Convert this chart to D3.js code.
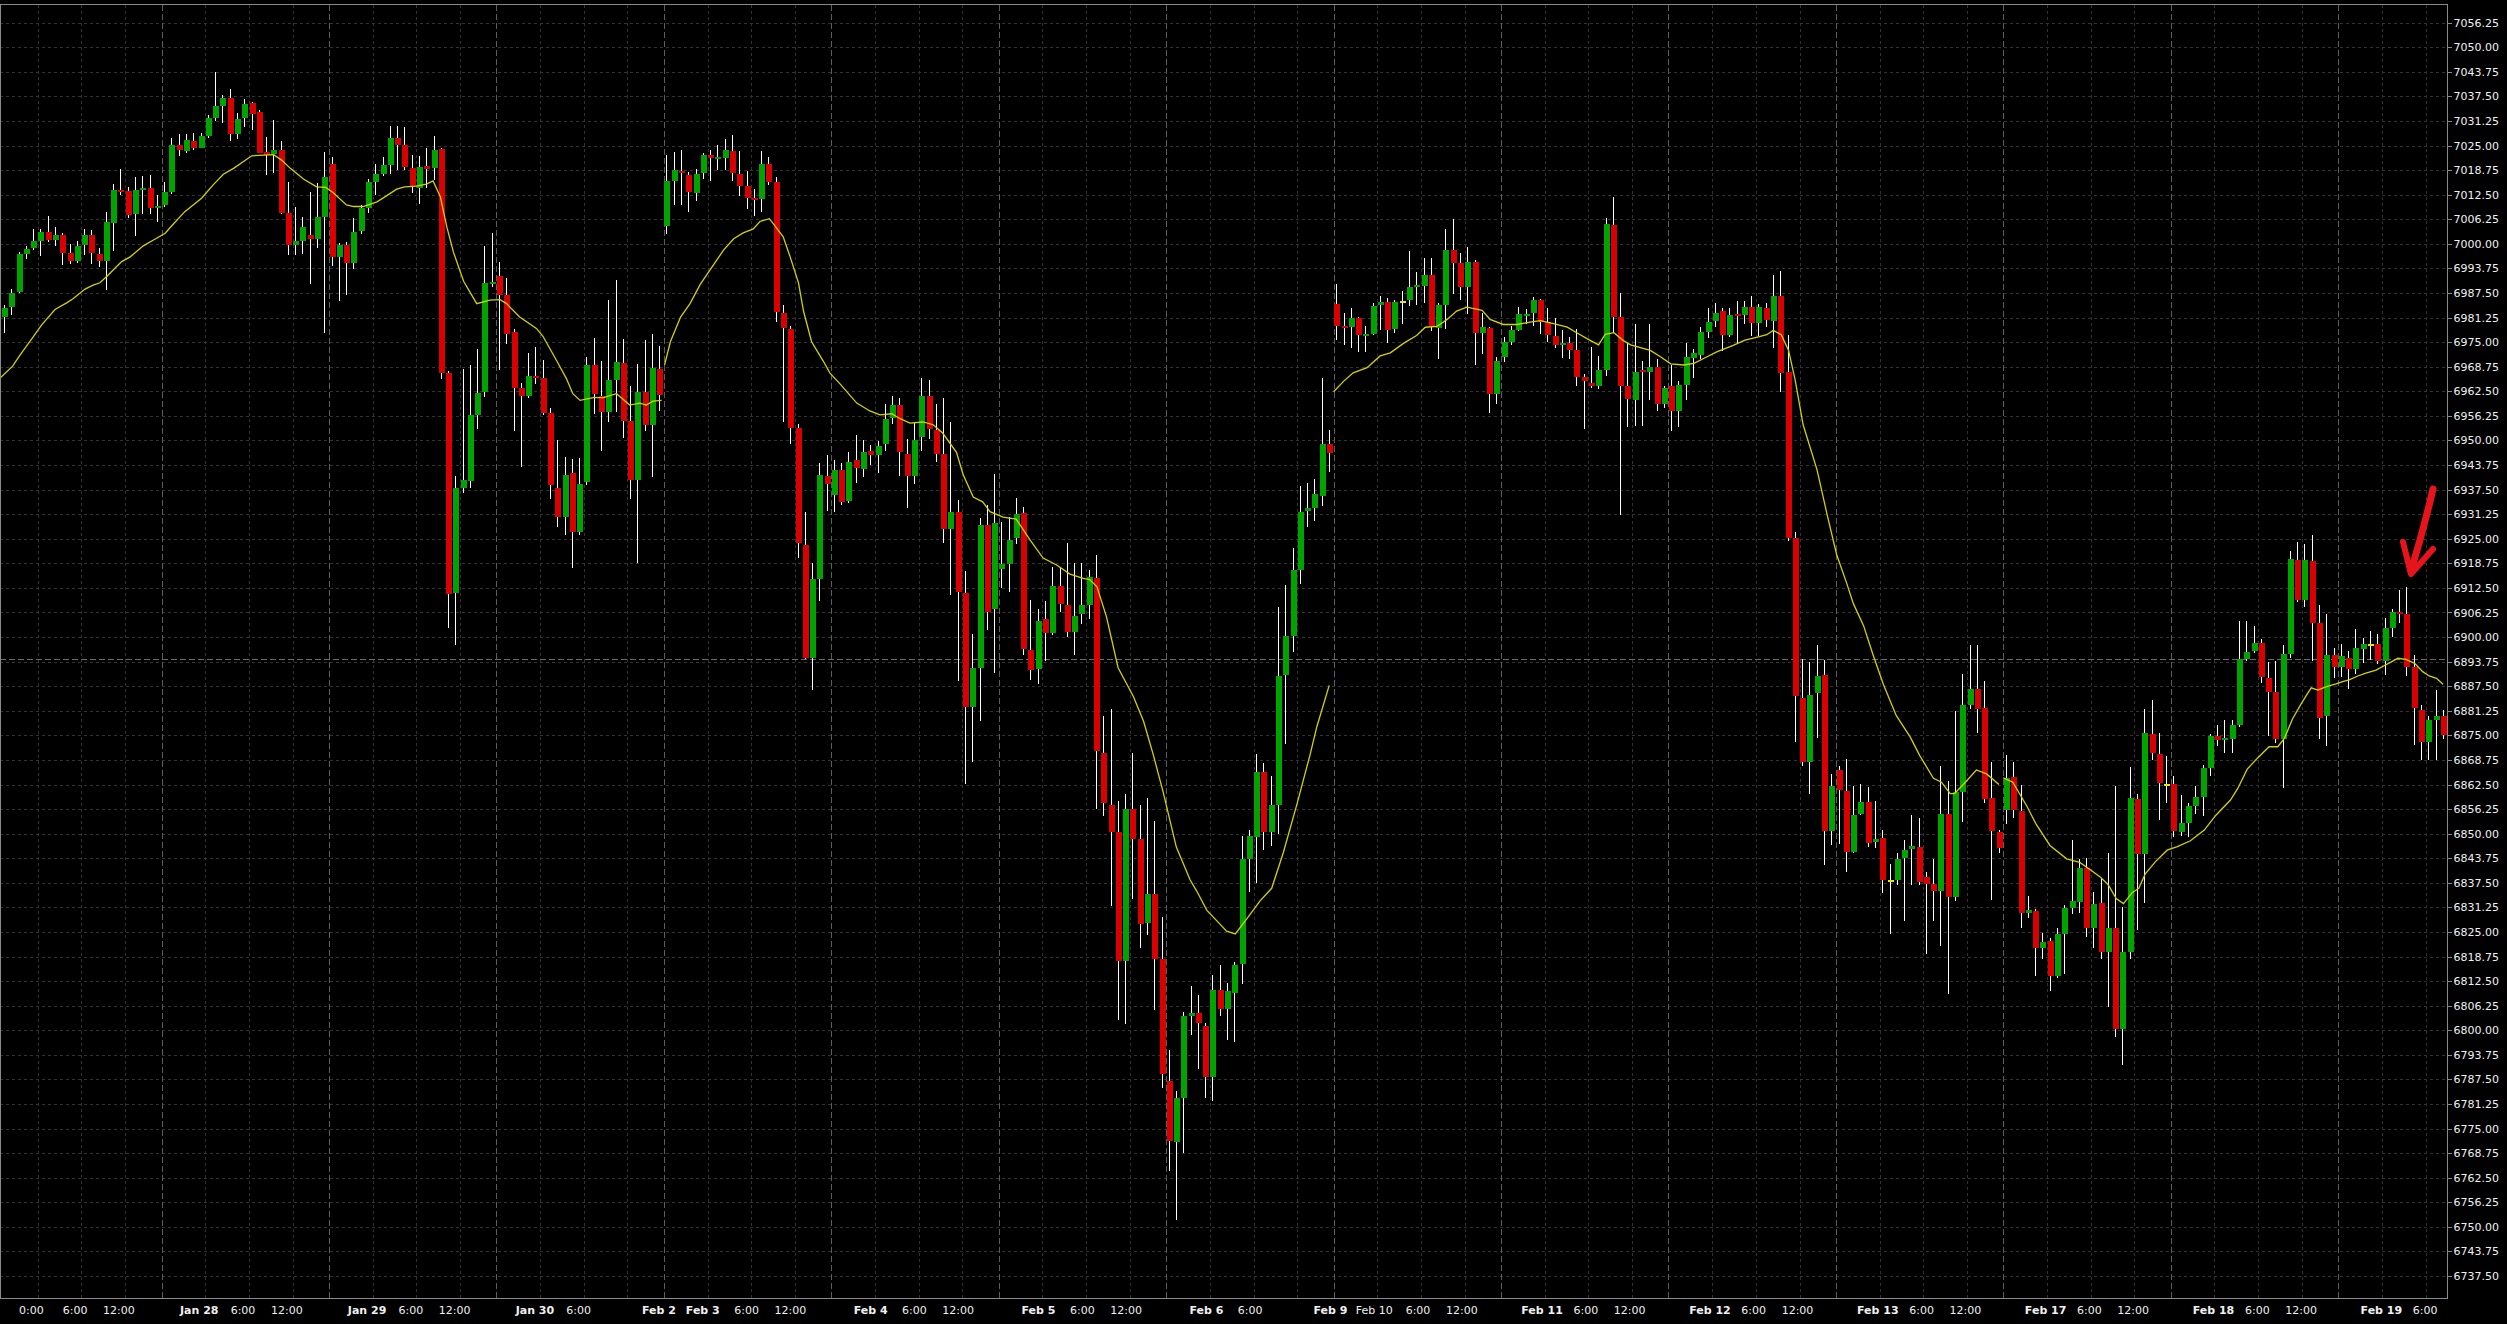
<!DOCTYPE html>
<html><head><meta charset="utf-8">
<script src="https://cdn.jsdelivr.net/npm/d3@7"></script>
<style>html,body{margin:0;padding:0;background:#000;overflow:hidden}</style>
</head><body>
<svg id="chart" width="2507" height="1324"></svg>
<script>
// ---- DATA (hourly candles, index 0..336) ----
const openP = [
6977.7,6981.5,6984.0,6987.8,6997.3,6999.0,7000.7,7003.0,7001.0,7002.3,
6997.7,6995.7,6999.7,7002.3,6997.4,6995.7,7005.4,7013.7,7013.4,7007.6,
7013.8,7014.2,7009.2,7009.9,7013.3,7025.1,7023.7,7026.2,7024.5,7027.5,
7032.0,7035.1,7037.0,7028.0,7032.0,7035.8,7033.5,7023.4,7022.8,7023.9,
7007.8,6999.7,7000.7,7002.3,7001.2,7006.8,7020.3,6996.7,6999.7,6995.1,
7003.3,7009.2,7015.7,7017.8,7020.0,7026.9,7025.1,7019.4,7014.3,7019.8,
7019.3,7024.1,6967.2,6911.3,6937.9,6939.8,6956.6,6962.4,6989.8,6991.8,
6987.0,6977.5,6963.4,6961.4,6966.4,6966.0,6957.1,6937.9,6930.6,6941.8,
6926.6,6939.5,6969.2,6961.4,6957.3,6965.5,6969.6,6954.9,6940.0,6962.2,
6953.9,6968.2,7004.6,7015.9,7018.6,7017.5,7013.0,7017.9,7022.5,7021.8,
7021.9,7023.5,7017.7,7014.8,7011.6,7011.3,7020.3,7015.7,6982.4,6978.3,
6953.2,6923.3,6894.8,6914.7,6941.0,6936.2,6942.5,6934.7,6945.0,6942.8,
6947.3,6946.3,6949.2,6955.6,6958.9,6946.6,6941.0,6950.8,6961.4,6952.6,
6946.6,6927.5,6931.7,6911.1,6882.1,6892.2,6928.4,6907.2,6917.3,6918.7,
6925.1,6931.6,6896.8,6891.9,6904.5,6901.0,6913.1,6908.2,6901.2,6905.8,
6908.2,6914.9,6870.5,6857.3,6850.3,6817.6,6856.3,6848.7,6827.3,6834.7,
6818.2,6787.0,6771.7,6782.8,6803.7,6804.4,6801.2,6788.0,6810.3,6805.4,
6809.6,6816.9,6843.5,6849.1,6865.7,6850.3,6857.3,6890.4,6900.3,6917.0,
6932.0,6932.9,6936.0,6949.1,6984.6,6979.2,6978.8,6981.1,6976.7,6977.1,
6984.5,6985.2,6978.4,6985.1,6985.6,6989.0,6989.3,6992.0,6978.5,6984.5,
6998.5,6995.1,6989.0,6995.5,6977.4,6978.5,6961.7,6971.3,6975.1,6978.1,
6981.6,6982.4,6985.6,6980.1,6976.6,6974.4,6974.7,6972.9,6966.1,6964.7,
6963.8,6967.9,7004.7,6981.5,6963.8,6960.4,6967.7,6967.5,6968.8,6959.3,
6963.8,6957.6,6964.2,6970.9,6971.7,6977.7,6980.5,6982.9,6976.9,6982.0,
6981.9,6983.9,6979.9,6983.6,6980.5,6986.7,6967.5,6925.1,6884.4,6868.1,
6885.8,6890.3,6850.8,6866.2,6860.9,6845.4,6855.1,6858.0,6848.0,6849.0,
6838.0,6838.2,6843.9,6846.2,6846.6,6838.9,6837.3,6835.5,6855.1,6833.9,
6860.5,6882.7,6886.7,6882.0,6859.1,6850.4,6856.0,6864.5,6855.7,6829.9,
6830.4,6821.0,6822.8,6813.7,6824.5,6831.1,6832.6,6841.3,6825.9,6832.4,
6819.8,6826.0,6800.2,6819.8,6858.7,6844.7,6875.4,6870.3,6862.4,6862.6,
6850.5,6852.6,6857.1,6859.2,6866.6,6874.8,6873.8,6874.1,6877.6,6894.3,
6896.4,6898.4,6889.5,6886.1,6874.0,6895.7,6919.6,6909.4,6919.3,6903.5,
6879.8,6895.4,6892.3,6894.8,6891.9,6897.0,6898.1,6898.2,6894.0,6902.4,
6906.5,6905.9,6892.3,6881.4,6873.4,6878.9,6879.9];
const highP = [
6982.5,6984.4,6988.4,6998.0,6999.5,7003.8,7003.8,7007.1,7004.2,7002.7,
7000.0,7000.7,7003.9,7003.5,6998.9,7008.1,7015.2,7019.0,7014.4,7017.1,
7017.3,7017.5,7012.4,7015.7,7026.9,7027.9,7028.0,7028.1,7028.2,7032.8,
7043.7,7037.9,7039.4,7033.4,7036.8,7036.2,7034.0,7027.3,7031.5,7026.2,
7015.7,7009.4,7006.9,7013.2,7015.6,7023.3,7022.0,7000.3,7000.5,7006.6,
7010.0,7016.6,7020.3,7022.0,7030.0,7030.0,7029.7,7022.6,7022.4,7024.4,
7027.4,7024.4,6967.7,6941.0,6968.2,6969.2,6973.3,6999.4,7002.8,6995.3,
6991.4,6978.3,6964.5,6972.3,6973.8,6970.4,6958.3,6950.1,6945.9,6945.4,
6945.6,6971.3,6976.0,6970.2,6985.7,6990.9,6975.8,6963.9,6969.4,6975.5,
6977.0,6973.9,7022.7,7023.4,7023.9,7018.3,7019.0,7023.2,7023.9,7025.2,
7026.6,7027.6,7023.7,7018.6,7014.0,7023.5,7022.1,7017.1,6984.5,6979.1,
6954.1,6931.7,6918.8,6944.3,6946.2,6945.0,6944.2,6947.0,6951.5,6950.1,
6948.8,6949.8,6959.3,6961.4,6960.7,6950.5,6954.5,6965.8,6965.4,6959.3,
6960.9,6954.7,6934.9,6916.7,6900.7,6930.3,6933.7,6941.4,6929.3,6930.5,
6935.4,6933.0,6909.3,6907.2,6909.1,6917.7,6917.7,6924.0,6918.8,6918.8,
6917.0,6920.8,6879.8,6881.7,6858.4,6860.1,6870.6,6857.3,6859.1,6853.3,
6828.8,6794.9,6784.5,6804.7,6811.3,6808.9,6801.9,6814.1,6816.6,6812.1,
6817.3,6849.4,6851.0,6870.3,6868.0,6864.7,6907.7,6913.2,6922.6,6938.3,
6939.3,6940.2,6965.8,6952.6,6989.9,6982.4,6983.8,6981.5,6979.0,6984.9,
6986.7,6986.3,6985.6,6987.9,6998.1,6992.8,6996.5,6996.5,6984.9,7003.7,
7006.4,6997.8,6999.2,6995.8,6982.4,6978.8,6971.3,6976.3,6979.2,6983.9,
6983.5,6986.5,6986.0,6983.8,6981.1,6978.1,6976.3,6978.3,6966.9,6973.7,
6971.5,7006.7,7011.9,6987.6,6974.7,6979.7,6970.2,6979.7,6970.6,6963.8,
6969.2,6965.1,6974.7,6973.3,6978.8,6983.8,6984.9,6983.6,6983.6,6985.4,
6985.4,6986.7,6984.7,6985.0,6992.0,6993.1,6976.9,6926.7,6894.4,6893.7,
6898.1,6894.1,6865.2,6867.2,6868.9,6862.2,6862.7,6861.8,6858.4,6851.0,
6842.3,6845.0,6848.3,6854.8,6854.0,6840.3,6843.6,6867.2,6863.4,6881.3,
6890.7,6898.1,6898.1,6888.7,6868.1,6851.0,6869.9,6868.1,6862.5,6834.2,
6830.8,6824.8,6823.4,6826.1,6831.9,6848.3,6843.6,6843.9,6835.1,6838.5,
6845.0,6862.1,6831.4,6866.9,6860.1,6881.6,6884.0,6875.5,6869.8,6864.7,
6859.8,6857.7,6862.1,6867.5,6875.3,6877.6,6878.9,6878.9,6904.1,6904.1,
6902.8,6899.5,6893.7,6893.9,6898.0,6921.9,6924.1,6923.7,6926.0,6908.1,
6905.9,6897.1,6898.2,6896.4,6902.0,6899.8,6901.5,6900.8,6904.8,6907.1,
6912.0,6912.8,6895.4,6882.7,6879.9,6886.5,6881.4];
const lowP = [
6976.5,6977.4,6981.9,6987.4,6996.2,6998.4,6997.0,7000.5,6999.5,6994.5,
6994.9,6995.1,6997.2,6994.8,6994.0,6988.3,6998.3,7012.5,7006.7,7002.1,
7007.7,7007.7,7005.6,7009.4,7012.7,7022.4,7023.2,7023.9,7024.3,7027.0,
7031.3,7030.7,7026.2,7026.7,7029.8,7029.0,7023.0,7017.5,7018.1,7007.5,
6997.2,6997.2,6997.4,6989.7,6999.0,6977.4,6994.4,6985.5,6987.0,6993.6,
7002.5,7007.9,7012.4,7017.3,7017.8,7018.8,7018.8,7013.0,7010.2,7014.2,
7016.2,6965.6,6902.3,6898.0,6936.6,6937.8,6952.9,6961.1,6989.0,6967.8,
6974.6,6952.5,6943.3,6960.7,6964.3,6956.6,6935.1,6928.0,6925.9,6917.6,
6925.9,6938.6,6956.8,6947.4,6954.6,6957.3,6950.7,6935.1,6918.9,6952.5,
6940.8,6957.5,7002.5,7009.9,7009.9,7008.1,7010.8,7016.6,7016.1,7018.8,
7018.8,7016.1,7012.2,7008.9,7007.2,7008.1,7015.0,6980.2,6954.6,6949.0,
6920.1,6894.3,6886.5,6909.1,6932.0,6931.7,6933.7,6934.0,6939.3,6940.6,
6943.8,6941.7,6947.4,6954.2,6941.0,6932.8,6938.9,6947.3,6950.5,6944.6,
6924.0,6910.7,6888.7,6862.6,6868.2,6878.6,6901.7,6890.9,6912.4,6911.4,
6923.7,6895.4,6889.1,6888.1,6894.0,6900.5,6906.5,6900.0,6895.4,6903.3,
6904.5,6856.3,6854.6,6831.5,6802.6,6801.5,6833.3,6820.8,6824.2,6805.1,
6785.2,6764.3,6751.7,6768.7,6798.7,6790.1,6782.7,6782.1,6803.6,6797.5,
6797.0,6811.7,6835.1,6837.5,6845.9,6846.8,6850.0,6872.8,6896.1,6913.5,
6928.0,6929.4,6933.4,6942.0,6975.6,6974.3,6973.6,6972.6,6972.4,6976.7,
6978.1,6974.7,6977.4,6979.7,6984.1,6984.5,6985.0,6977.8,6970.6,6978.4,
6987.3,6985.6,6982.2,6969.2,6971.9,6957.0,6959.3,6969.9,6974.3,6977.8,
6979.5,6979.2,6977.0,6975.1,6973.6,6970.9,6970.6,6963.8,6952.9,6963.4,
6963.1,6966.5,6977.4,6931.1,6953.3,6953.6,6953.8,6960.4,6957.4,6958.3,
6952.5,6953.3,6960.4,6965.8,6970.6,6976.0,6978.8,6972.7,6976.2,6974.9,
6979.6,6976.5,6976.5,6978.9,6973.4,6962.4,6924.4,6873.2,6867.2,6860.0,
6874.3,6842.0,6847.0,6847.3,6840.3,6845.2,6854.8,6846.6,6846.3,6834.9,
6824.5,6836.9,6827.7,6836.9,6836.9,6819.4,6827.7,6821.4,6809.3,6832.9,
6853.0,6881.6,6875.7,6857.8,6833.1,6845.2,6852.4,6854.1,6825.9,6828.5,
6813.7,6818.0,6810.0,6813.3,6814.3,6829.5,6829.9,6823.8,6821.0,6818.0,
6805.9,6798.4,6791.1,6818.0,6825.5,6832.3,6868.7,6853.6,6857.9,6849.2,
6849.5,6849.2,6855.0,6854.5,6864.7,6872.3,6870.4,6870.4,6877.2,6893.9,
6896.0,6888.2,6874.8,6873.1,6861.5,6894.6,6909.0,6907.7,6893.9,6874.0,
6872.4,6889.5,6889.9,6886.7,6890.5,6893.3,6894.2,6893.1,6890.35,6900.1,
6903.65,6890.1,6872.5,6868.7,6868.7,6868.7,6874.0];
const closeP = [
6981.5,6983.8,6987.4,6997.3,6998.7,7000.7,7003.0,7001.0,7002.3,6997.8,
6995.7,6999.5,7002.3,6997.8,6995.7,7005.5,7013.7,7013.3,7007.3,7013.7,
7014.2,7009.2,7009.6,7013.1,7025.1,7024.0,7026.4,7024.5,7027.4,7032.0,
7035.1,7037.0,7028.0,7031.8,7035.6,7033.1,7023.2,7022.6,7023.9,7007.8,
6999.8,7000.7,7004.4,7001.2,7006.8,7017.0,6996.7,6999.7,6995.1,7003.0,
7009.2,7015.7,7017.8,7020.0,7026.9,7025.1,7019.5,7014.6,7019.6,7019.1,
7024.0,6967.1,6911.0,6937.9,6939.9,6956.6,6962.1,6990.0,6990.3,6987.0,
6977.2,6963.4,6961.4,6966.3,6966.0,6957.1,6938.6,6930.6,6941.2,6926.7,
6939.0,6969.2,6961.9,6957.3,6965.5,6970.0,6954.9,6940.0,6962.2,6953.9,
6968.4,6961.6,7015.9,7018.8,7017.9,7013.3,7017.8,7022.5,7021.8,7022.0,
7023.9,7018.1,7014.8,7011.7,7011.3,7020.3,7015.7,6982.6,6978.5,6953.2,
6923.8,6894.8,6914.7,6941.2,6939.0,6942.6,6934.4,6944.5,6943.1,6947.0,
6946.2,6948.7,6955.4,6958.9,6947.0,6941.0,6950.2,6961.4,6952.9,6946.6,
6927.5,6931.7,6911.4,6882.1,6892.2,6928.4,6906.5,6929.1,6918.5,6924.7,
6931.2,6897.0,6891.5,6904.2,6901.0,6913.1,6908.3,6901.2,6905.4,6908.2,
6915.2,6871.0,6857.7,6850.3,6817.6,6856.3,6848.7,6827.0,6834.7,6818.2,
6789.0,6771.9,6782.7,6803.6,6804.4,6801.9,6788.0,6810.3,6805.4,6809.9,
6816.6,6843.5,6849.4,6865.8,6850.3,6857.3,6890.1,6900.3,6917.0,6931.7,
6932.7,6936.3,6949.1,6946.7,6979.2,6978.6,6981.1,6976.7,6977.1,6984.2,
6985.2,6978.1,6985.2,6985.1,6989.0,6989.5,6992.0,6978.8,6984.5,6998.5,
6995.1,6989.0,6995.5,6977.4,6978.8,6961.7,6970.3,6975.1,6978.1,6982.2,
6982.2,6985.6,6980.1,6976.7,6974.4,6974.9,6973.0,6966.1,6965.0,6963.8,
6967.9,7005.1,6981.5,6963.8,6960.6,6967.5,6967.4,6968.8,6959.3,6963.4,
6957.6,6964.0,6971.3,6972.2,6977.7,6980.1,6982.4,6976.9,6982.0,6981.6,
6983.9,6979.9,6983.9,6980.7,6986.7,6967.2,6925.3,6885.1,6868.1,6885.3,
6890.1,6850.8,6862.1,6861.1,6845.4,6854.8,6858.0,6847.7,6848.7,6838.2,
6838.0,6843.6,6845.9,6846.9,6837.8,6837.3,6835.5,6855.1,6833.9,6860.5,
6882.7,6886.7,6881.7,6858.8,6850.6,6846.3,6864.1,6856.0,6829.9,6830.6,
6821.0,6822.5,6813.7,6824.5,6831.1,6832.8,6841.3,6826.1,6832.2,6819.8,
6826.0,6800.2,6819.8,6859.0,6844.7,6875.5,6870.4,6862.8,6862.4,6850.7,
6852.6,6857.0,6859.2,6866.6,6874.8,6873.8,6874.4,6877.6,6894.3,6896.1,
6898.4,6889.9,6886.1,6874.0,6895.7,6919.8,6909.4,6919.6,6903.6,6879.5,
6895.4,6892.5,6895.2,6892.0,6897.1,6898.2,6898.1,6894.0,6902.2,6906.3,
6905.9,6892.3,6881.9,6873.4,6878.9,6879.9,6875.1];

// moving average (position in candle units, value); null = gap
const maIdx = [0.3,2.05,3.06,4.9,6.04,7.87,9.47,10.39,12,13.1,14.05,14.97,16.1,17.03,18.2,20,21.4,23,24.1,25.7,28,29.6,31,32.4,34.9,37.9,39,40.2,42,43.8,45,46.1,47.9,48.9,50.2,52.1,53.4,54.8,55.9,57.5,58.9,59.8,60.8,61.7,62.6,64,65.8,67.6,69,69.9,71.7,74,74.9,76.8,78.1,79,80,81.8,83.2,85,85.9,86.8,88.2,89.1,90,91.2,
null,
91.6,92.4,93.8,95.1,96.5,97.9,99.7,101.1,102.4,103.8,104.7,106,106.5,107.9,108.8,110,110.7,111.8,113.4,114.3,115.7,118,119.8,121.2,122.8,123.9,125.3,127.1,128.5,129.8,131.7,132.6,134,135.3,136.3,138.1,139.9,141.8,143.6,145.4,147.3,149.1,150,151,152.3,153.9,156,157.4,158.7,160.1,161.9,163.8,164.7,166.1,167.9,168.8,170,171.6,173.4,175,176.6,178.5,180.3,181.2,182.9,
null,
183.5,184.9,186.2,188.1,189.9,191.3,193.1,194.9,196.1,197.7,199.1,200.4,201.8,203.9,205,206.8,208.7,210.5,211.9,213.7,215.6,216.9,218.8,219.9,220.8,222,223.3,224.3,227,228.4,229.8,231.6,233,234.8,236.2,238.4,240,241.6,243,243.9,245,246,246.9,248,249.9,251.3,252.6,254,254.9,256.3,257.6,259,260.8,262.7,264,265.9,267,268.2,268.8,270,271.8,273.2,274.9,
null,
275.5,276.8,278.7,280,281.9,284.2,286,287.4,288.8,289.9,291,292,293.2,294.1,295,296.4,298,299.4,301.2,303.1,304.7,306.7,307.7,309,310.4,312,313.2,314.1,315.2,316.4,317.3,317.8,318.7,319.9,321.2,322.1,323,324.2,325.3,326.7,327.6,328.8,329.7,330.8,332,333.1,334,335,335.9];
const maVal = [6965.8,6968.9,6971.7,6976.4,6979.4,6983.3,6985.0,6986.1,6988.5,6989.5,6990.1,6991.7,6993.8,6995.5,6996.7,6999.5,7001.0,7002.7,7005.0,7008.2,7011.6,7015.0,7017.7,7019.2,7022.4,7022.7,7021.3,7019.2,7016.5,7014.5,7014.4,7013.0,7009.9,7009.5,7009.5,7010.7,7012.2,7013.9,7014.5,7014.7,7015.2,7016.0,7012.0,7004.25,6997.9,6990.5,6984.8,6985.7,6985.8,6984.8,6981.4,6978.5,6976.5,6970.2,6965.8,6961.9,6960.2,6960.9,6960.9,6961.9,6960.5,6959.0,6959.5,6959.0,6960.0,6960.2,
null,
6969.2,6975.1,6981.4,6984.8,6989.7,6993.5,6998.4,7001.3,7002.8,7003.8,7005.7,7006.4,7005.2,7001.8,6997.0,6990.1,6982.8,6975.1,6970.2,6967.2,6964.4,6959.5,6957.5,6956.5,6956.8,6955.6,6954.4,6954.7,6954.0,6951.9,6947.0,6941.4,6935.6,6934.4,6931.9,6930.5,6930.0,6924.7,6920.1,6918.4,6916.0,6914.9,6914.6,6912.8,6905.2,6892.2,6884.9,6878.6,6870.3,6860.5,6846.6,6838.2,6835.4,6830.5,6827.0,6825.2,6824.5,6828.4,6832.9,6836.1,6845.2,6857.7,6870.3,6877.2,6887.7,
null,
6962.4,6965.1,6967.2,6968.5,6971.5,6972.3,6974.7,6976.7,6978.8,6979.0,6980.8,6982.9,6983.9,6983.1,6980.8,6979.5,6979.5,6980.1,6980.5,6979.7,6978.8,6977.4,6975.4,6974.3,6977.0,6977.4,6975.4,6974.3,6972.9,6971.3,6969.5,6969.2,6969.6,6971.3,6972.6,6974.2,6975.5,6976.2,6976.9,6978.0,6976.9,6972.9,6965.4,6954.0,6942.6,6931.1,6921.0,6913.6,6908.5,6902.9,6895.5,6888.05,6880.0,6874.6,6869.9,6864.1,6863.1,6860.2,6860.2,6862.5,6866.2,6865.2,6862.5,
null,
6864.2,6863.1,6857.1,6852.4,6847.0,6843.6,6842.7,6840.9,6839.0,6837.0,6833.5,6832.2,6835.0,6836.1,6839.8,6842.9,6845.8,6846.7,6848.2,6850.9,6854.7,6858.55,6861.5,6866.4,6869.2,6872.1,6872.1,6874.2,6879.1,6883.0,6885.7,6887.1,6886.5,6887.4,6888.1,6888.65,6889.1,6890.1,6890.8,6891.6,6892.5,6893.7,6894.6,6894.3,6893.3,6891.2,6890.1,6889.5,6888.0];

// session separators and 6-hour grid positions (candle index)
const sepIdx = [23,46,69,92,115,138,161,184,207,230,253,276,299,322];
const gridIdx = [6,12,18,29,35,41,52,58,64,75,81,87,98,104,110,121,127,133,144,150,156,167,173,179,190,196,202,213,219,225,236,242,248,259,265,271,282,288,294,305,311,317,328,334];
// time axis labels
const labelIdx  = [6,12,18,29,35,41,52,58,64,75,81,92,98,104,110,121,127,133,144,150,156,167,173,184,190,196,202,213,219,225,236,242,248,259,265,271,282,288,294,305,311,317,328,334];
const labelText = ["0:00","6:00","12:00","Jan 28","6:00","12:00","Jan 29","6:00","12:00","Jan 30","6:00","Feb 2","Feb 3","6:00","12:00","Feb 4","6:00","12:00","Feb 5","6:00","12:00","Feb 6","6:00","Feb 9","Feb 10","6:00","12:00","Feb 11","6:00","12:00","Feb 12","6:00","12:00","Feb 13","6:00","12:00","Feb 17","6:00","12:00","Feb 18","6:00","12:00","Feb 19","6:00"];
const labelBold = labelText.map(t => /^[A-Z]/.test(t) && t !== "Feb 10");
// price axis ticks
const priceTicks = d3.range(6737.5, 7056.26, 6.25);
const markLevel = 6894.5;

// ---- LAYOUT ----
const W = 2507, H = 1324;
const plotL = 0, plotR = 2447, plotT = 5, plotB = 1298;
const N = openP.length;
const x = d3.scaleLinear().domain([0, 336]).range([-2.3, 2443.78]);
const y = d3.scaleLinear().domain([6731.905, 7060.752]).range([plotB, plotT]);
const xl = d3.scaleLinear().domain([0, 336]).range([-12.955, 2439.24]);

const svg = d3.select('#chart');
svg.append('rect').attr('width', W).attr('height', H).attr('fill', '#000');
svg.append('defs').append('clipPath').attr('id', 'clip')
  .append('rect').attr('x', plotL).attr('y', plotT).attr('width', plotR - plotL).attr('height', plotB - plotT);
const g = svg.append('g').attr('clip-path', 'url(#clip)');

// grid
const grid = g.append('g').attr('shape-rendering', 'crispEdges');
grid.selectAll('line.hg').data(priceTicks).join('line')
  .attr('x1', plotL).attr('x2', plotR)
  .attr('y1', d => Math.round(y(d)) + 0.5).attr('y2', d => Math.round(y(d)) + 0.5)
  .attr('stroke', '#333').attr('stroke-dasharray', '3,3');
grid.selectAll('line.vg').data(gridIdx).join('line')
  .attr('x1', d => Math.round(x(d - 0.5)) + 0.5).attr('x2', d => Math.round(x(d - 0.5)) + 0.5)
  .attr('y1', plotT).attr('y2', plotB)
  .attr('stroke', '#333').attr('stroke-dasharray', '3,3');
grid.selectAll('line.sep').data(sepIdx).join('line')
  .attr('x1', d => Math.round(x(d - 0.5)) + 0.5).attr('x2', d => Math.round(x(d - 0.5)) + 0.5)
  .attr('y1', plotT).attr('y2', plotB)
  .attr('stroke', '#5e5e5e').attr('stroke-dasharray', '6,3');
grid.append('line')
  .attr('x1', plotL).attr('x2', plotR)
  .attr('y1', Math.round(y(markLevel)) + 0.5).attr('y2', Math.round(y(markLevel)) + 0.5)
  .attr('stroke', '#6c6c6c').attr('stroke-dasharray', '6,3');

// candles
const idx = d3.range(N);
const bodyX = i => Math.round(x(i) - 3);
const cg = g.append('g').attr('shape-rendering', 'crispEdges');
cg.selectAll('line.w').data(idx).join('line')
  .attr('x1', i => bodyX(i) + 2.5).attr('x2', i => bodyX(i) + 2.5)
  .attr('y1', i => y(highP[i])).attr('y2', i => y(lowP[i]))
  .attr('stroke', '#ffffff').attr('stroke-width', 1);
cg.selectAll('rect.b').data(idx).join('rect')
  .attr('x', i => bodyX(i)).attr('width', 6)
  .attr('y', i => {
    const t = y(Math.max(openP[i], closeP[i]));
    const h = Math.abs(y(openP[i]) - y(closeP[i]));
    return h < 2 ? (y(openP[i]) + y(closeP[i])) / 2 - 1 : t;
  })
  .attr('height', i => Math.max(2, Math.abs(y(openP[i]) - y(closeP[i]))))
  .attr('fill', i => closeP[i] > openP[i] ? '#00a300' : (closeP[i] < openP[i] ? '#d80000' : '#e8e800'));

// moving average
const maPts = maIdx.map((v, k) => v == null ? null : [x(v), y(maVal[k])]);
g.append('path').datum(maPts)
  .attr('d', d3.line().defined(d => d != null))
  .attr('fill', 'none').attr('stroke', '#d2d200').attr('stroke-width', 1.3);

// frame
svg.append('rect').attr('x', 0.5).attr('y', plotT - 0.5).attr('width', plotR).attr('height', plotB - plotT + 1)
  .attr('fill', 'none').attr('stroke', '#8a8a8a').attr('shape-rendering', 'crispEdges');

// price axis
const ay = svg.append('g').attr('transform', `translate(${plotR + 0.5},0)`)
  .call(d3.axisRight(y).tickValues(priceTicks).tickFormat(d3.format('.2f')).tickSize(4).tickPadding(2));
ay.select('.domain').remove();
ay.selectAll('line').attr('stroke', '#8a8a8a').attr('shape-rendering', 'crispEdges');
ay.selectAll('text').attr('fill', '#f0f0f0').attr('font-family', '"DejaVu Sans", sans-serif').attr('font-size', 11);

// time axis
const ax = svg.append('g').attr('transform', `translate(0,${plotB})`)
  .call(d3.axisBottom(xl).tickValues(labelIdx).tickFormat((d, k) => labelText[k]).tickSize(0).tickPadding(8.5));
ax.select('.domain').remove();
ax.selectAll('text').attr('fill', '#f0f0f0').attr('font-family', '"DejaVu Sans", sans-serif').attr('font-size', 11)
  .attr('font-weight', (d, k) => labelBold[k] ? 'bold' : 'normal');

// red annotation arrow
const arrow = svg.append('g').attr('fill', 'none').attr('stroke', '#e8141b')
  .attr('stroke-linecap', 'round').attr('stroke-linejoin', 'round');
arrow.append('path').attr('d', 'M2433,489 Q2424,528 2411,571').attr('stroke-width', 7);
arrow.append('path').attr('d', 'M2403,542 L2411,574 L2433,549').attr('stroke-width', 6);
</script>
</body></html>
